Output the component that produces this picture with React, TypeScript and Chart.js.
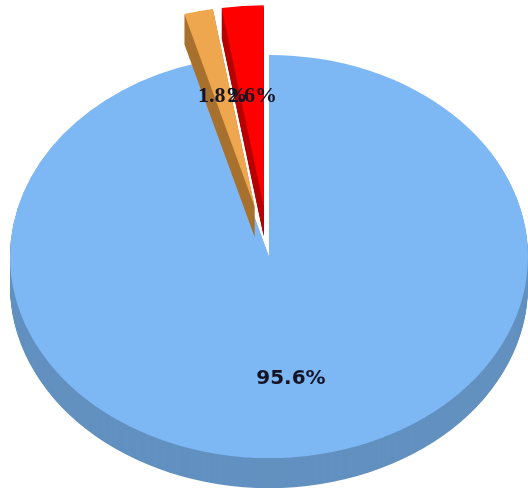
import React, { useEffect, useRef } from "react";
import { Chart, registerables } from "chart.js";

Chart.register(...registerables);

const categories = ["Slice A", "Slice B", "Slice C"];
const values = [95.6, 1.8, 2.6];
const labels = ["95.6%", "1.8%", "2.6%"];
const explode = [0, 64, 64];
const topColors = ["#7DB8F5", "#EEA64F", "#FF0000"];
const sideColors = ["#6291C0", "#A8712F", "#B80000"];
const labelFonts = [
  "bold 20px 'DejaVu Sans', Verdana, sans-serif",
  "bold 22px 'Liberation Serif', 'Times New Roman', serif",
  "bold 22px 'Liberation Serif', 'Times New Roman', serif",
];
const labelFrac = [0.615, 0.57, 0.55];
const drawOrder = [0, 2, 1];

const TILT = 0.778;
const DEPTH = 30;

const pie3d = {
  id: "pie3d",
  beforeDatasetsDraw(chart: any) {
    const ctx = chart.ctx as CanvasRenderingContext2D;
    const meta = chart.getDatasetMeta(0);
    const arcs = meta.data as any[];
    const ds = chart.data.datasets[0] as any;

    const path = (a: any, off: number) => {
      const mid = (a.startAngle + a.endAngle) / 2;
      const cx = a.x + Math.cos(mid) * off;
      const cy = a.y + Math.sin(mid) * off;
      ctx.beginPath();
      ctx.moveTo(cx, cy);
      ctx.arc(cx, cy, a.outerRadius, a.startAngle, a.endAngle);
      ctx.closePath();
    };

    const withTransform = (a: any, shift: number, fn: () => void) => {
      ctx.save();
      ctx.translate(0, a.y + shift);
      ctx.scale(1, TILT);
      ctx.translate(0, -a.y);
      fn();
      ctx.restore();
    };

    for (const i of drawOrder) {
      const a = arcs[i];
      if (!a) continue;
      const off = ds.offset[i] || 0;
      for (let k = DEPTH; k >= 1; k--) {
        withTransform(a, k, () => {
          path(a, off);
          ctx.fillStyle = ds.sideColors[i];
          ctx.fill();
        });
      }
      withTransform(a, 0, () => {
        path(a, off);
        ctx.fillStyle = ds.backgroundColor[i];
        ctx.fill();
      });
    }

    // labels
    ctx.save();
    ctx.textAlign = "center";
    ctx.textBaseline = "middle";
    ctx.fillStyle = "#141426";
    for (let i = 0; i < arcs.length; i++) {
      const a = arcs[i];
      const off = ds.offset[i] || 0;
      const mid = (a.startAngle + a.endAngle) / 2;
      const ux = a.x + Math.cos(mid) * (off + a.outerRadius * labelFrac[i]);
      const uy = a.y + Math.sin(mid) * (off + a.outerRadius * labelFrac[i]);
      const sy = a.y + (uy - a.y) * TILT;
      ctx.font = labelFonts[i];
      ctx.fillText(labels[i], ux, sy);
    }
    ctx.restore();
    return false;
  },
};

export default function App() {
  const ref = useRef<HTMLCanvasElement | null>(null);
  useEffect(() => {
    if (!ref.current) return;
    const chart = new Chart(ref.current, {
      type: "pie",
      data: {
        labels: categories,
        datasets: [
          {
            data: values,
            backgroundColor: topColors,
            offset: explode,
            borderWidth: 0,
            sideColors: sideColors,
          } as any,
        ],
      },
      options: {
        responsive: false,
        animation: false,
        radius: 259,
        layout: { padding: { left: 10, top: 22, right: 0, bottom: 0 } },
        plugins: {
          legend: { display: false },
          tooltip: { enabled: false },
        },
      } as any,
      plugins: [pie3d],
    });
    return () => chart.destroy();
  }, []);
  return (
    <div style={{ position: "fixed", left: 0, top: 0, width: 528, height: 491, background: "#fff" }}>
      <canvas ref={ref} width={528} height={491} style={{ display: "block" }} />
    </div>
  );
}
